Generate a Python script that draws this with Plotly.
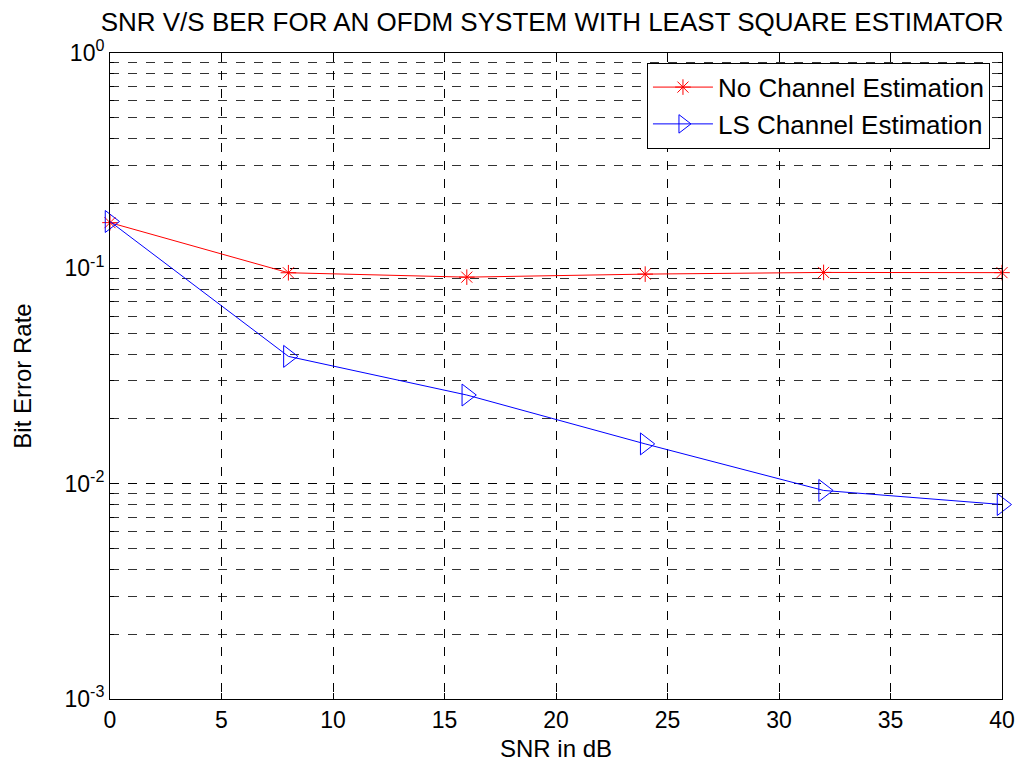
import plotly.graph_objects as go

snr = [0, 8, 16, 24, 32, 40]
ber_none = [0.163, 0.0954, 0.091, 0.0940, 0.0957, 0.0955]
ber_ls = [0.165, 0.0390, 0.0258, 0.0153, 0.0093, 0.0080]

ytick_vals = [1e-3, 1e-2, 1e-1, 1]
ytick_text = ["10<sup>-3</sup>", "10<sup>-2</sup>", "10<sup>-1</sup>", "10<sup>0</sup>"]
minor_vals = [m * 10 ** e for e in (-3, -2, -1) for m in range(2, 10)]

FONT = "Liberation Sans, Arial, sans-serif"

fig = go.Figure()
fig.add_trace(go.Scatter(
    x=snr, y=ber_none, mode="lines+markers", name="No Channel Estimation",
    line=dict(color="red", width=1),
    marker=dict(symbol="asterisk-open", size=13, color="red", line=dict(color="red", width=1)),
    cliponaxis=False,
))
fig.add_trace(go.Scatter(
    x=snr, y=ber_ls, mode="lines+markers", name="LS Channel Estimation",
    line=dict(color="blue", width=1),
    marker=dict(symbol="triangle-right-open", size=19, color="blue", line=dict(color="blue", width=1)),
    cliponaxis=False,
))

fig.update_layout(
    width=1032, height=764,
    margin=dict(l=110, r=30, t=53, b=65),
    paper_bgcolor="white", plot_bgcolor="white",
    font=dict(family=FONT, size=23, color="black"),
    title=dict(text="SNR V/S BER FOR AN OFDM SYSTEM WITH LEAST SQUARE ESTIMATOR",
               x=0.535, xanchor="center", y=0.971, yanchor="middle",
               font=dict(family=FONT, size=26, color="black")),
    legend=dict(x=0.9865, xanchor="right", y=0.985, yanchor="top",
                bgcolor="white", bordercolor="black", borderwidth=1,
                font=dict(family=FONT, size=26), itemwidth=60),
    xaxis=dict(
        range=[0, 40], tickvals=[0, 5, 10, 15, 20, 25, 30, 35, 40],
        showline=True, linecolor="black", linewidth=1, mirror="ticks",
        ticks="inside", ticklen=6, tickcolor="black",
        showgrid=True, gridcolor="black", griddash="dash", gridwidth=1,
        zeroline=False, automargin=False,
        title=dict(text="SNR in dB", font=dict(size=24), standoff=8),
        tickfont=dict(size=23),
    ),
    yaxis=dict(
        type="log", range=[-3, 0], tickvals=ytick_vals, ticktext=ytick_text,
        showline=True, linecolor="black", linewidth=1, mirror="ticks",
        ticks="inside", ticklen=6, tickcolor="black",
        showgrid=True, gridcolor="black", griddash="dash", gridwidth=1,
        zeroline=False, automargin=False,
        minor=dict(tickvals=minor_vals, ticks="inside", ticklen=4, tickcolor="black",
                   showgrid=True, gridcolor="#333333", griddash="dash", gridwidth=1),
        title=dict(text="Bit Error Rate", font=dict(size=24), standoff=26),
        tickfont=dict(size=23),
    ),
)

fig.write_html("out.html")
